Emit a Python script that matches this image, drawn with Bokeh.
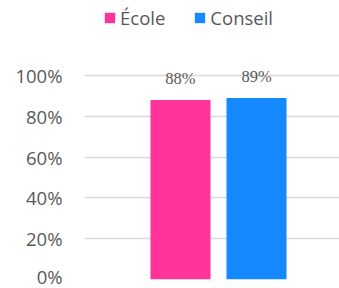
from bokeh.plotting import figure
from bokeh.models import ColumnDataSource, Range1d, FixedTicker, Legend, LegendItem, LabelSet
from bokeh.embed import file_html
from bokeh.resources import INLINE

series = ["École", "Conseil"]
values = [0.88, 0.89]
labels = ["88%", "89%"]
colors = ["#FF3399", "#1589FF"]
tick_values = [0, 0.2, 0.4, 0.6, 0.8, 1.0]
tick_labels = ["0%", "20%", "40%", "60%", "80%", "100%"]

FONT = "Open Sans"
TXT = "#595959"

src = ColumnDataSource(dict(x=list(range(len(series))), top=values,
                            label=labels, color=colors, name=series))

p = figure(width=339, height=288, output_backend="svg", toolbar_location=None,
           x_range=Range1d(-1.263, 2.092), y_range=Range1d(0, 1.3676),
           min_border_left=84, min_border_right=0, min_border_top=0, min_border_bottom=9)
p.outline_line_color = None
p.background_fill_color = "white"
p.border_fill_color = "white"

renderers = []
for i in range(len(series)):
    r = p.vbar(x=[src.data["x"][i]], top=[values[i]], width=0.79, color=colors[i], line_color=None)
    renderers.append(r)

lbl = LabelSet(x="x", y="top", text="label", source=src, text_align="center",
               text_baseline="bottom", y_offset=12, text_font=FONT,
               text_font_size="16.5px", text_color=TXT)
p.add_layout(lbl)

p.xaxis.visible = False
p.xgrid.grid_line_color = None
p.yaxis.ticker = FixedTicker(ticks=tick_values)
p.yaxis.major_label_overrides = {v: t for v, t in zip(tick_values, tick_labels)}
p.yaxis.axis_line_color = None
p.yaxis.major_tick_line_color = None
p.yaxis.minor_tick_line_color = None
p.yaxis.major_label_standoff = 16
p.yaxis.major_label_text_font = FONT
p.yaxis.major_label_text_font_size = "18.5px"
p.yaxis.major_label_text_color = TXT
p.ygrid.ticker = FixedTicker(ticks=tick_values)
p.ygrid.grid_line_color = "#d9d9d9"
p.ygrid.grid_line_width = 1.5

legend = Legend(items=[LegendItem(label=series[i], renderers=[renderers[i]]) for i in range(len(series))],
                orientation="horizontal", location=(19, 249), padding=0, margin=0,
                spacing=28, glyph_width=13, glyph_height=13, label_standoff=4, label_height=20,
                label_text_font=FONT, label_text_font_size="18.5px", label_text_color=TXT,
                border_line_color=None, background_fill_alpha=0)
p.add_layout(legend)

open("out.html", "w").write(file_html(p, INLINE))
